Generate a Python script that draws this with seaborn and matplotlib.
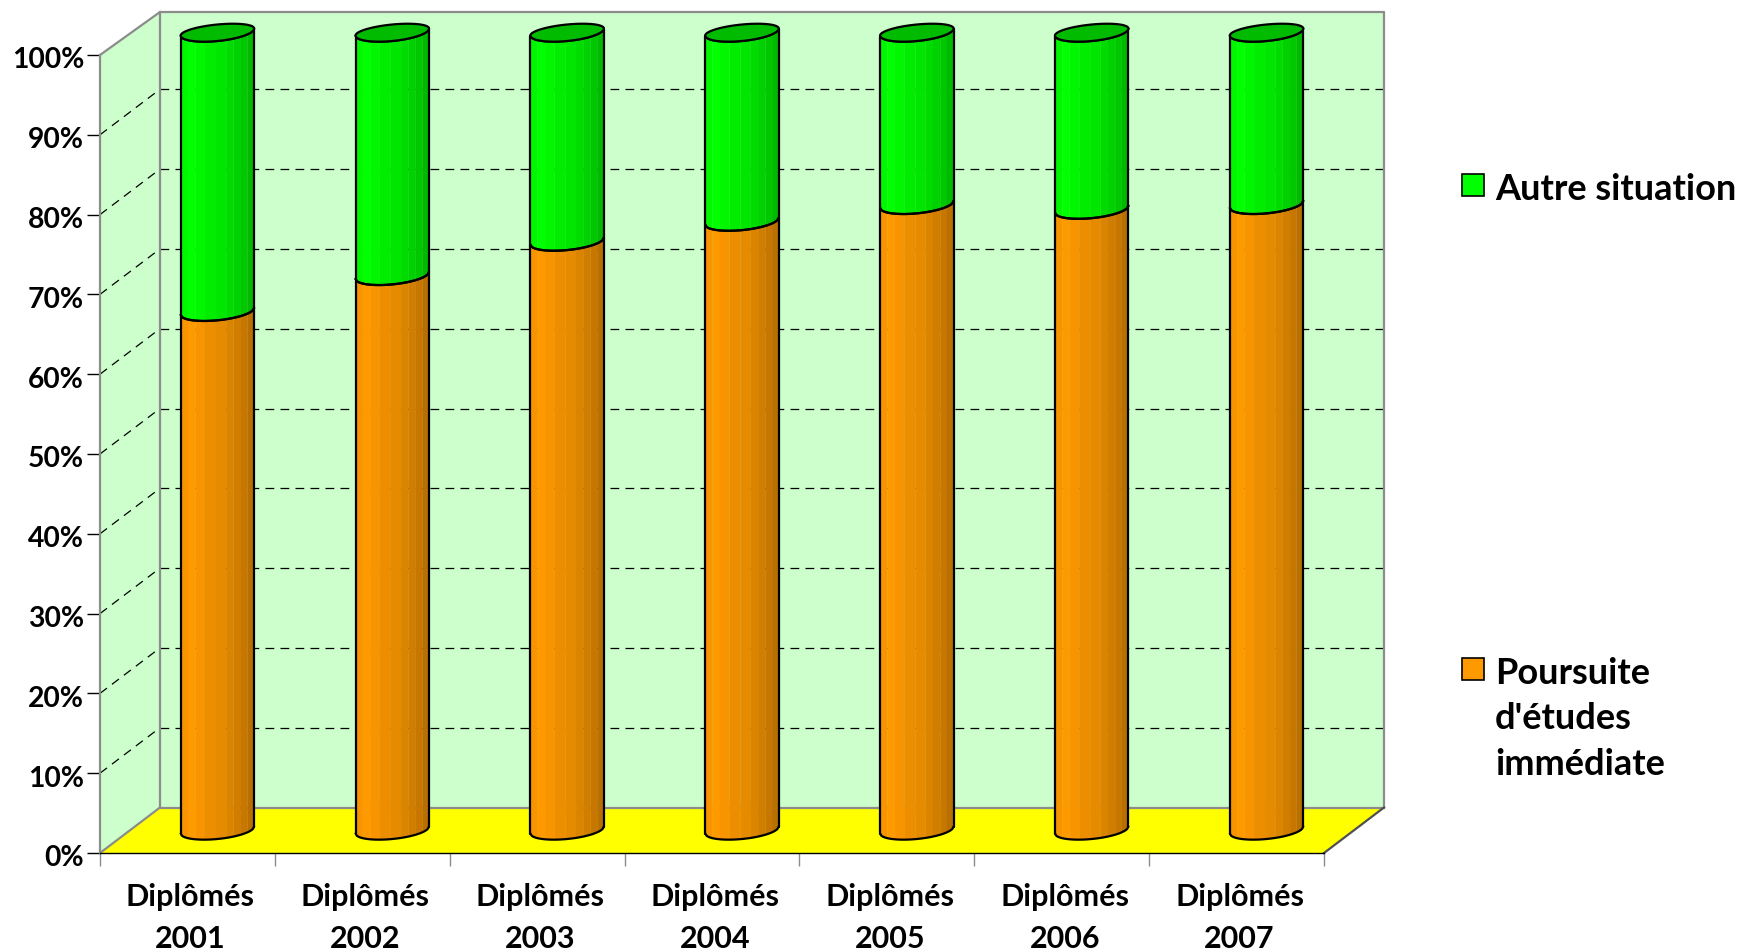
import numpy as np
import pandas as pd
import matplotlib
matplotlib.use("Agg")
import matplotlib.pyplot as plt
import seaborn as sns
from matplotlib.patches import Polygon, Rectangle
from matplotlib.transforms import ScaledTranslation

annees = ["Diplômés\n2001", "Diplômés\n2002", "Diplômés\n2003", "Diplômés\n2004",
          "Diplômés\n2005", "Diplômés\n2006", "Diplômés\n2007"]
poursuite = [65.0, 69.5, 73.8, 76.3, 78.4, 77.8, 78.4]
autre = [35.0, 30.5, 26.2, 23.7, 21.6, 22.2, 21.6]
yticks = [0, 10, 20, 30, 40, 50, 60, 70, 80, 90, 100]

W, H = 1743, 953
sns.set_theme(style="white")
plt.rcParams["font.family"] = ["Lato", "DejaVu Sans"]
plt.rcParams["font.weight"] = "bold"

df = pd.DataFrame({"annee": annees, "poursuite": poursuite, "autre": autre})

fig = plt.figure(figsize=(W / 100, H / 100), dpi=100)
# axes = front plane of the fake 3D box
ax = fig.add_axes([100 / W, 1 - 854 / H, 1224 / W, 798 / H])

sns.barplot(data=df, x="annee", y="autre", bottom=df["poursuite"].values, color="#00ff00",
            saturation=1, width=0.42, ax=ax)
sns.barplot(data=df, x="annee", y="poursuite", color="#ff9900",
            saturation=1, width=0.42, ax=ax)
barres = list(ax.patches)
ax.set_xlim(-0.5, 6.5)
ax.set_ylim(0, 100)
ax.set_xlabel("")
ax.set_ylabel("")

sx = 1224 / 7   # px per category
sy = 7.98       # px per percent
bx, by = 60 / sx, 45.5 / sy      # depth of the box
mx, my = 30 / sx, 23 / sy        # bars stand half way
top = 100 + 43 / sy              # back wall top edge

GRIS = "#8c8c8c"
# walls and floor
ax.add_patch(Polygon([(-0.5, 0), (-0.5 + bx, by), (6.5 + bx, by), (6.5, 0)], fc="#ffff00", ec="none", zorder=0.5, clip_on=False))
ax.add_patch(Polygon([(-0.5 + bx, by), (-0.5 + bx, top), (6.5 + bx, top), (6.5 + bx, by)], fc="#ccffcc", ec="none", zorder=0.5, clip_on=False))
ax.add_patch(Polygon([(-0.5, 0), (-0.5, 100), (-0.5 + bx, top), (-0.5 + bx, by)], fc="#ccffcc", ec="none", zorder=0.5, clip_on=False))
for xs, ys, c in [([-0.5, -0.5 + bx, 6.5 + bx, 6.5 + bx], [100, top, top, by], GRIS),
                  ([-0.5 + bx, -0.5 + bx, 6.5 + bx], [top, by, by], GRIS),
                  ([-0.5, -0.5 + bx], [0, by], GRIS),
                  ([6.5, 6.5 + bx], [0, by], "#505050")]:
    ax.plot(xs, ys, color=c, lw=1.6, zorder=1, clip_on=False, solid_capstyle="projecting")

# dashed grid, back wall and side wall
for v in yticks[1:-1]:
    ax.plot([-0.5 + bx, 6.5 + bx], [v + by, v + by], color="black", lw=0.9, dashes=(7, 5), zorder=0.8, clip_on=False)
    ax.plot([-0.5, -0.5 + bx], [v, v + by], color="black", lw=0.9, dashes=(7, 5), zorder=0.8, clip_on=False)


def curve(y, u):
    # front rim of the cylinder at position u (-1..1), in data units
    return y + (3.5 * u - 9 * np.sqrt(np.clip(1 - u ** 2, 0, 1))) / sy


bords = [0, .1, .2, .33, .48, .62, .72, .82, .91, 1]
teintes = [.97, 1, .97, .93, .9, .86, .82, .78, .73]

n = len(annees)
for i, p in enumerate(barres):
    base = p.get_facecolor()[:3]
    x0, w = p.get_x() + mx, p.get_width()
    y0, h = p.get_y() + my, p.get_height()
    p.set_visible(False)
    cx = x0 + w / 2
    # facets of the cylinder
    for j in range(len(teintes)):
        us = np.linspace(bords[j], bords[j + 1], 8) * 2 - 1
        xs = cx + us * w / 2
        bas = curve(y0, us)
        haut = curve(y0 + h, us)
        pts = list(zip(xs, bas)) + list(zip(xs[::-1], haut[::-1]))
        col = tuple(c * teintes[j] for c in base)
        ax.add_patch(Polygon(pts, fc=col, ec=col, lw=0.2, zorder=3, clip_on=False))
    us = np.linspace(-1, 1, 60)
    xs = cx + us * w / 2
    ax.plot(xs, curve(y0 + h, us), color="black", lw=1.6, zorder=5, clip_on=False)
    ax.plot(xs, curve(y0, us), color="black", lw=1.6, zorder=4, clip_on=False)
    for e in (-1, 1):
        ue = cx + e * w / 2
        ax.plot([ue, ue], [curve(y0, np.array([e]))[0], curve(y0 + h, np.array([e]))[0]],
                color="black", lw=1.6, zorder=5, clip_on=False)
    if i < n:
        # lid on the green part
        t = np.linspace(0, 2 * np.pi, 120)
        ex = cx + np.cos(t) * w / 2
        ey = y0 + h + (3.5 * np.cos(t) + np.where(np.sin(t) > 0, 7.5, 9) * np.sin(t)) / sy
        ax.add_patch(Polygon(list(zip(ex, ey)), fc="#00bb00", ec="black", lw=1.6, zorder=6, clip_on=False))

# ticks
for s in ("top", "right"):
    ax.spines[s].set_visible(False)
ax.spines["left"].set_color(GRIS)
ax.spines["left"].set_linewidth(1.6)
ax.spines["bottom"].set_color("black")
ax.spines["bottom"].set_linewidth(1.0)
ax.spines["left"].set_zorder(1)
ax.spines["bottom"].set_zorder(1.5)
ax.set_yticks(yticks)
ax.set_yticklabels([f"{v}%" for v in yticks], fontsize=20.3, fontweight="bold", color="black")
ax.tick_params(axis="y", left=True, length=9.5, width=1.0, color="black", pad=2)
ax.set_xticks(np.arange(-0.5, 7, 1))
ax.set_xticklabels([""] * 8)
ax.set_xticks(np.arange(7), annees, minor=True, fontsize=22, fontweight="bold", color="black", linespacing=1.6)
ax.tick_params(axis="x", which="major", bottom=True, length=9, width=1.0, color=GRIS)
ax.tick_params(axis="x", which="minor", bottom=False, length=0, pad=21)

# small nudges of the tick labels
for lab in ax.get_yticklabels():
    lab.set_transform(lab.get_transform() + ScaledTranslation(0, -2 / 100, fig.dpi_scale_trans))
for lab in ax.get_xticklabels(minor=True):
    lab.set_transform(lab.get_transform() + ScaledTranslation(3 / 100, 0, fig.dpi_scale_trans))

# legend
for y, c, txt in [(186, "#00ff00", "Autre situation"),
                  (670, "#ff9900", "Poursuite\nd'études\nimmédiate")]:
    fig.add_artist(Rectangle((1462 / W, 1 - (y + 11) / H), 22 / W, 22 / H, fc=c, ec="black", lw=1.2,
                             transform=fig.transFigure))
    fig.text(1495 / W, 1 - (y - 13) / H, txt, fontsize=26, fontweight="bold", color="black",
             va="top", ha="left", linespacing=1.46)

fig.savefig("out.png", dpi=100)
